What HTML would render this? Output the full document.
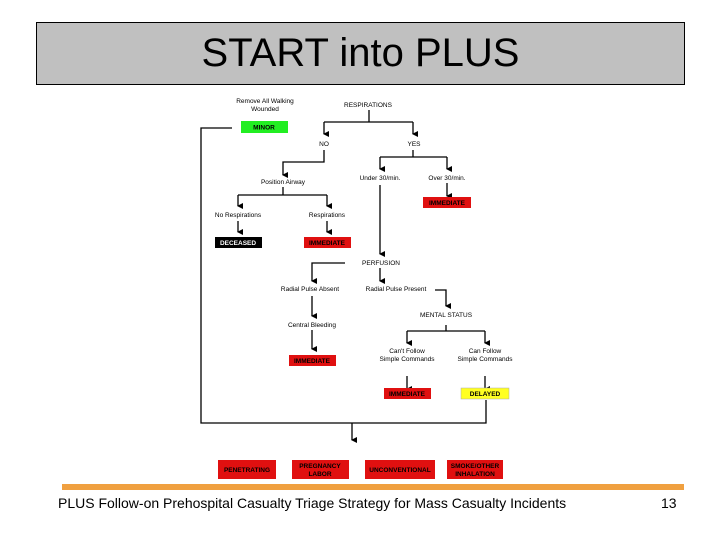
<!DOCTYPE html>
<html><head><meta charset="utf-8"><style>
body{margin:0;width:720px;height:540px;background:#fff;position:relative;overflow:hidden;font-family:"Liberation Sans",sans-serif}
.title{position:absolute;left:36px;top:22px;width:647px;height:61px;background:#c0c0c0;border:1px solid #000;text-align:center;font-size:40px;line-height:61px}
.bar{position:absolute;left:62px;top:484px;width:622px;height:6px;background:#f0a040}
.foot{position:absolute;left:58px;top:495px;font-size:14px}
.num{position:absolute;left:661px;top:495px;font-size:14px}
svg{position:absolute;left:0;top:0}
</style></head><body>
<div class="title">START into PLUS</div>
<svg width="720" height="540" font-family="Liberation Sans, sans-serif" font-size="6.5" text-anchor="middle">
<defs><marker id="a" markerWidth="6" markerHeight="6" refX="3" refY="5" orient="auto" markerUnits="userSpaceOnUse"><path d="M0,0 L6,0 L3,6z" fill="#000"/></marker></defs>
<g stroke="#000" stroke-width="1.3" fill="none">
<path d="M232,128 H201 V423 H486 V400"/>
<path d="M352,423 V440" marker-end="url(#a)"/>
<path d="M369,110 V122 M324,122 H413"/>
<path d="M324,122 V134" marker-end="url(#a)"/><path d="M413,122 V134" marker-end="url(#a)"/>
<path d="M413,150 V157 M380,157 H447"/>
<path d="M380,157 V169" marker-end="url(#a)"/><path d="M447,157 V169" marker-end="url(#a)"/>
<path d="M447,183 V196" marker-end="url(#a)"/>
<path d="M324,150 V162 H283 V175" marker-end="url(#a)"/>
<path d="M283,187 V195 M238,195 H327"/>
<path d="M238,195 V206" marker-end="url(#a)"/><path d="M327,195 V206" marker-end="url(#a)"/>
<path d="M238,221 V232" marker-end="url(#a)"/><path d="M327,221 V232" marker-end="url(#a)"/>
<path d="M380,185 V254" marker-end="url(#a)"/>
<path d="M345,263 H312 V281" marker-end="url(#a)"/>
<path d="M380,268 V281" marker-end="url(#a)"/>
<path d="M312,296 V316" marker-end="url(#a)"/>
<path d="M312,330 V349" marker-end="url(#a)"/>
<path d="M435,290 H446 V306" marker-end="url(#a)"/>
<path d="M446,325 V331 M407,331 H485"/>
<path d="M407,331 V343" marker-end="url(#a)"/><path d="M485,331 V343" marker-end="url(#a)"/>
<path d="M407,376 V389" marker-end="url(#a)"/><path d="M485,376 V389" marker-end="url(#a)"/>
</g>
<g fill="#000">
<text x="265" y="103">Remove All Walking</text><text x="265" y="111">Wounded</text>
<text x="368" y="107">RESPIRATIONS</text>
<text x="324" y="146">NO</text><text x="414" y="146">YES</text>
<text x="380" y="180">Under 30/min.</text><text x="447" y="180">Over 30/min.</text>
<text x="283" y="184">Position Airway</text>
<text x="238" y="217">No Respirations</text><text x="327" y="217">Respirations</text>
<text x="381" y="265">PERFUSION</text>
<text x="310" y="291">Radial Pulse Absent</text><text x="396" y="291">Radial Pulse Present</text>
<text x="312" y="327">Central Bleeding</text>
<text x="446" y="317">MENTAL STATUS</text>
<text x="407" y="353">Can't Follow</text><text x="407" y="361">Simple Commands</text>
<text x="485" y="353">Can Follow</text><text x="485" y="361">Simple Commands</text>
</g>
<g font-weight="bold">
<rect x="241" y="121" width="47" height="12" fill="#22ee22"/><text x="264" y="129.5">MINOR</text>
<rect x="423" y="197" width="48" height="11" fill="#e01010"/><text x="447" y="205">IMMEDIATE</text>
<rect x="215" y="237" width="47" height="11" fill="#000"/><text x="238" y="245" fill="#fff">DECEASED</text>
<rect x="304" y="237" width="47" height="11" fill="#e01010"/><text x="327" y="245">IMMEDIATE</text>
<rect x="289" y="355" width="47" height="11" fill="#e01010"/><text x="312" y="363">IMMEDIATE</text>
<rect x="384" y="388" width="47" height="11" fill="#e01010"/><text x="407" y="396">IMMEDIATE</text>
<rect x="461" y="388" width="48" height="11" fill="#ffff22" stroke="#aaa" stroke-width="0.5"/><text x="485" y="396">DELAYED</text>
<g fill="#e01010"><rect x="218" y="460" width="58" height="19"/><rect x="292" y="460" width="57" height="19"/><rect x="365" y="460" width="70" height="19"/><rect x="447" y="460" width="56" height="19"/></g>
<text x="247" y="472">PENETRATING</text>
<text x="320" y="468">PREGNANCY</text><text x="320" y="476">LABOR</text>
<text x="400" y="472">UNCONVENTIONAL</text>
<text x="475" y="468">SMOKE/OTHER</text><text x="475" y="476">INHALATION</text>
</g>
</svg>
<div class="bar"></div>
<div class="foot">PLUS Follow-on Prehospital Casualty Triage Strategy for Mass Casualty Incidents</div>
<div class="num">13</div>
</body></html>
